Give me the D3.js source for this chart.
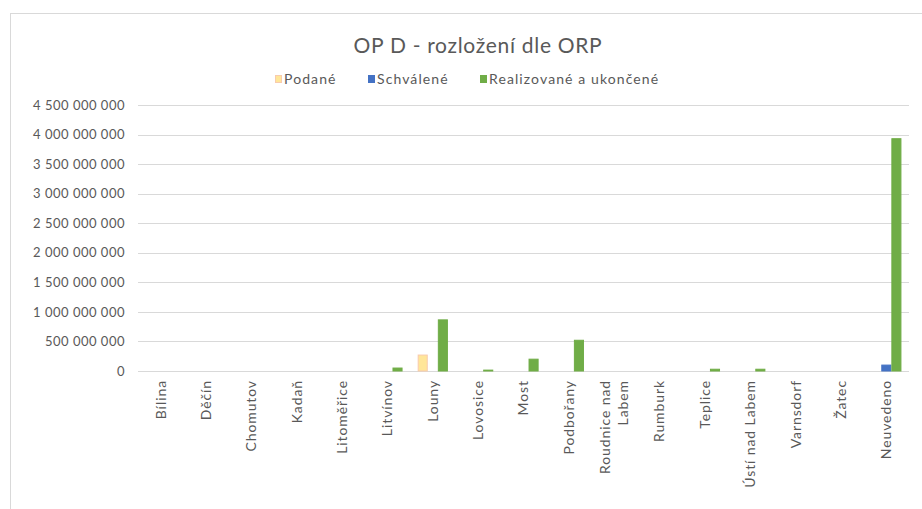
<!DOCTYPE html>
<html>
<head>
<meta charset="utf-8">
<script src="https://cdn.jsdelivr.net/npm/d3@7"></script>
<style>
  body { margin: 0; background: #fff; }
  svg text { font-family: "Lato", "Open Sans", sans-serif; fill: #595959; }
</style>
</head>
<body>
<div class="plot"></div>
<script>
// data
const categories = ["Bílina", "Děčín", "Chomutov", "Kadaň", "Litoměřice", "Litvínov", "Louny",
  "Lovosice", "Most", "Podbořany", "Roudnice nad Labem", "Rumburk", "Teplice",
  "Ústí nad Labem", "Varnsdorf", "Žatec", "Neuvedeno"];
const seriesNames = ["Podané", "Schválené", "Realizované a ukončené"];
const podane      = [0, 0, 0, 0, 0, 0, 270e6, 0, 0, 0, 0, 0, 0, 0, 0, 0, 0];
const schvalene   = [0, 0, 0, 0, 0, 0, 0, 0, 0, 0, 0, 0, 0, 0, 0, 0, 100e6];
const realizovane = [0, 0, 0, 0, 0, 50e6, 865e6, 15e6, 200e6, 520e6, 0, 0, 30e6, 30e6, 0, 0, 3930e6];
const yTicks = [0, 5e8, 1e9, 1.5e9, 2e9, 2.5e9, 3e9, 3.5e9, 4e9, 4.5e9];

const colors = ["#ffe699", "#4472c4", "#70ad47"];
const strokes = ["#f8cbad", "#4472c4", "#70ad47"];

const W = 922, H = 509;
const svg = d3.select(".plot").append("svg")
    .attr("width", W)
    .attr("height", H);

// chart frame
svg.append("rect")
    .attr("x", 10.5).attr("y", 13.5)
    .attr("width", W + 20).attr("height", H + 20)
    .attr("fill", "none")
    .attr("stroke", "#d9d9d9");

// title
svg.append("text")
    .attr("x", 478).attr("y", 53)
    .attr("text-anchor", "middle")
    .style("font-size", "21px")
    .style("letter-spacing", "0.7px")
    .text("OP D - rozložení dle ORP");

// scales
const x = d3.scaleBand()
    .domain(categories)
    .range([138, 909])
    .paddingInner(1 / 3)
    .paddingOuter(1 / 6);
const xSub = d3.scaleBand()
    .domain(seriesNames)
    .range([0, x.bandwidth()]);
const y = d3.scaleLinear()
    .domain([0, 4.5e9])
    .range([371, 105]);

// gridlines
svg.append("g")
    .selectAll("line")
    .data(yTicks)
    .join("line")
        .attr("x1", 138).attr("x2", 909)
        .attr("y1", d => Math.round(y(d)) + 0.5)
        .attr("y2", d => Math.round(y(d)) + 0.5)
        .attr("stroke", "#d9d9d9");

// y axis labels
const fmt = v => d3.format(",")(v).replace(/,/g, " ");
const yAxis = d3.axisLeft(y).tickValues(yTicks).tickFormat(fmt).tickSize(0).tickPadding(0);
svg.append("g")
    .attr("transform", "translate(125,0)")
    .call(yAxis)
    .call(g => g.select(".domain").remove())
    .selectAll("text")
        .style("font-size", "13px")
        .style("letter-spacing", "0.5px")
        .attr("fill", "#595959");

// bars
const series = [podane, schvalene, realizovane];
series.forEach((vals, si) => {
    svg.append("g")
        .selectAll("rect")
        .data(vals.map((v, i) => ({cat: categories[i], v: v})).filter(d => d.v > 0))
        .join("rect")
            .attr("x", d => x(d.cat) + xSub(seriesNames[si]) + 0.5)
            .attr("width", xSub.bandwidth() - 1)
            .attr("y", d => y(d.v))
            .attr("height", d => y(0) - y(d.v))
            .attr("fill", colors[si])
            .attr("stroke", strokes[si])
            .attr("stroke-width", 1);
});

// x axis labels, rotated
const labels = svg.append("g")
    .selectAll("text")
    .data(categories)
    .join("text")
        .attr("transform", d => "translate(" + (x(d) + x.bandwidth() / 2) + ",380) rotate(-90)")
        .attr("text-anchor", "end")
        .style("font-size", "14px")
        .style("letter-spacing", "0.9px");
labels.each(function(d) {
    const t = d3.select(this);
    const lines = d === "Roudnice nad Labem" ? ["Roudnice nad", "Labem"] : [d];
    const lh = 18;
    lines.forEach((ln, k) => {
        t.append("tspan")
            .attr("x", 0)
            .attr("y", (k - (lines.length - 1) / 2) * lh)
            .attr("dy", "0.35em")
            .text(ln);
    });
});

// legend
const legendX = [275, 368, 480];
const lg = svg.append("g")
    .selectAll("g")
    .data(seriesNames)
    .join("g")
        .attr("transform", (d, i) => "translate(" + legendX[i] + ",79)");
lg.append("rect")
    .attr("x", 0.5).attr("y", -3.5)
    .attr("width", 6).attr("height", 7)
    .attr("fill", (d, i) => colors[i])
    .attr("stroke", (d, i) => strokes[i]);
lg.append("text")
    .attr("x", 9)
    .attr("dy", "0.35em")
    .style("font-size", "14px")
    .style("letter-spacing", "1.1px")
    .text(d => d);
</script>
</body>
</html>
